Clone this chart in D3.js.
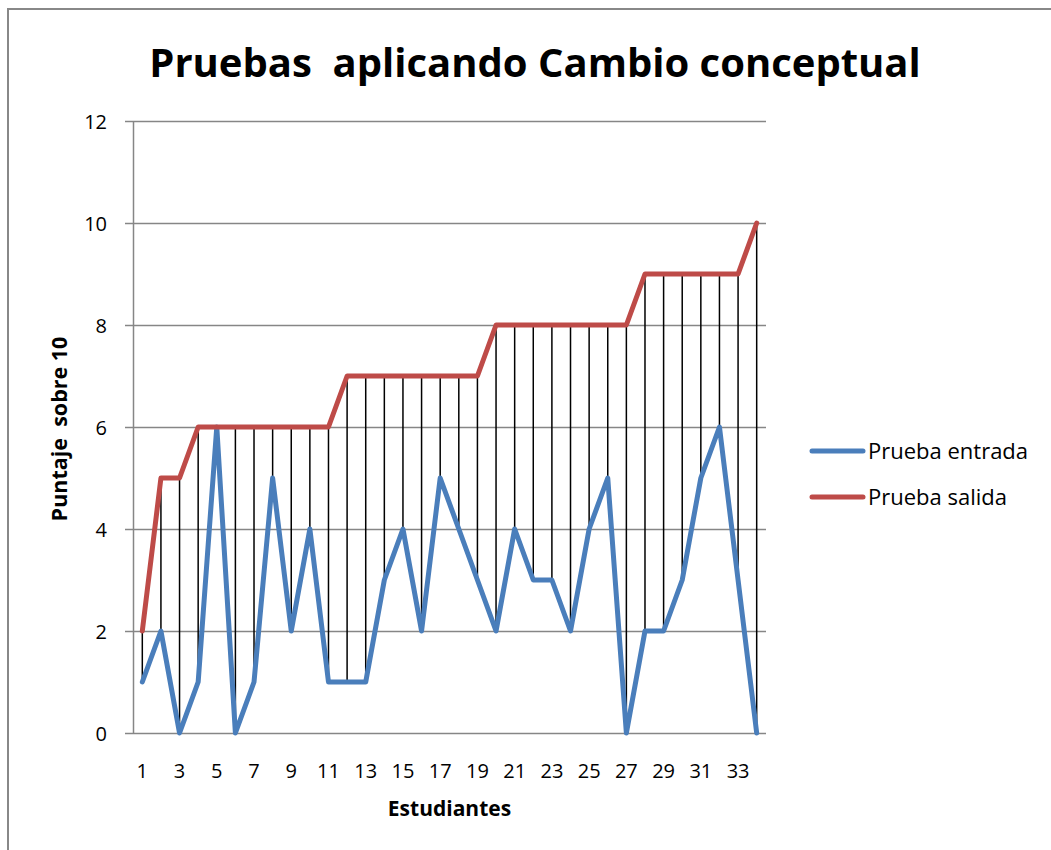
<!DOCTYPE html>
<html>
<head>
<meta charset="utf-8">
<script src="https://cdn.jsdelivr.net/npm/d3@7"></script>
<style>
  body { margin: 0; background: #fff; }
  svg text { font-family: "Open Sans", "Noto Sans", sans-serif; fill: #000; }
</style>
</head>
<body>
<div id="chart"></div>
<script>
// Students 1..34
const students = d3.range(1, 35);
// Scores (out of 10)
const entrada = [1, 2, 0, 1, 6, 0, 1, 5, 2, 4, 1, 1, 1, 3, 4, 2, 5, 4, 3, 2, 4, 3, 3, 2, 4, 5, 0, 2, 2, 3, 5, 6, 3, 0];
const salida  = [2, 5, 5, 6, 6, 6, 6, 6, 6, 6, 6, 7, 7, 7, 7, 7, 7, 7, 7, 8, 8, 8, 8, 8, 8, 8, 8, 9, 9, 9, 9, 9, 9, 10];
const yTicks = [0, 2, 4, 6, 8, 10, 12];
const xTickLabels = students.filter(d => d % 2 === 1);
const seriesNames = ["Prueba entrada", "Prueba salida"];
const seriesColors = ["#4a7ebb", "#be4b48"];

const width = 1051;
const height = 850;
const margin = { left: 133, right: 285, top: 121, bottom: 117 };

const svg = d3.select("#chart")
    .append("svg")
    .attr("width", width)
    .attr("height", height);

// chart area border
svg.append("rect")
    .attr("x", 8).attr("y", 9)
    .attr("width", width + 20).attr("height", height + 20)
    .attr("fill", "none")
    .attr("stroke", "#888")
    .attr("stroke-width", 2);

const x = d3.scaleBand()
    .domain(students)
    .range([margin.left, width - margin.right]);

const y = d3.scaleLinear()
    .domain([0, 12])
    .range([height - margin.bottom, margin.top]);

const cx = d => x(d) + x.bandwidth() / 2;

// horizontal grid lines + y axis
const yAxis = d3.axisLeft(y)
    .tickValues(yTicks)
    .tickSize(-(width - margin.right - margin.left))
    .tickPadding(26)
    .tickSizeOuter(0);

const gy = svg.append("g")
    .attr("transform", `translate(${margin.left},0)`)
    .call(yAxis);
gy.select(".domain").attr("stroke", "#868686").attr("stroke-width", 1.5);
gy.selectAll(".tick line")
    .attr("stroke", "#868686")
    .attr("stroke-width", 1.5)
    .attr("x1", -8);
gy.selectAll(".tick text")
    .attr("font-size", 20)
    .attr("font-family", "Open Sans")
    .attr("dy", "0.35em");

// x axis labels (no tick marks)
const xAxis = d3.axisBottom(x)
    .tickValues(xTickLabels)
    .tickSize(0)
    .tickPadding(31);
const gx = svg.append("g")
    .attr("transform", `translate(0,${height - margin.bottom})`)
    .call(xAxis);
gx.select(".domain").remove();
gx.selectAll(".tick text")
    .attr("font-size", 20)
    .attr("font-family", "Open Sans");

// high-low lines
svg.append("g")
    .selectAll("line")
    .data(students)
    .join("line")
    .attr("x1", d => cx(d))
    .attr("x2", d => cx(d))
    .attr("y1", (d, i) => y(entrada[i]))
    .attr("y2", (d, i) => y(salida[i]))
    .attr("stroke", "#000")
    .attr("stroke-width", 1.5);

// series lines
const line = d3.line()
    .x(d => cx(d[0]))
    .y(d => y(d[1]));

[entrada, salida].forEach((vals, k) => {
    svg.append("path")
        .datum(students.map((s, i) => [s, vals[i]]))
        .attr("fill", "none")
        .attr("stroke", seriesColors[k])
        .attr("stroke-width", 5)
        .attr("stroke-linejoin", "round")
        .attr("stroke-linecap", "round")
        .attr("d", line);
});

// title
svg.append("text")
    .attr("x", 535)
    .attr("y", 77)
    .attr("text-anchor", "middle")
    .attr("font-size", 40)
    .attr("font-weight", "bold")
    .style("white-space", "pre")
    .text("Pruebas  aplicando Cambio conceptual");

// axis titles
svg.append("text")
    .attr("transform", `translate(67,${(margin.top + height - margin.bottom) / 2 + 2}) rotate(-90)`)
    .attr("text-anchor", "middle")
    .attr("font-size", 21.5)
    .attr("font-weight", "bold")
    .style("white-space", "pre")
    .text("Puntaje  sobre 10");

svg.append("text")
    .attr("x", (margin.left + width - margin.right) / 2)
    .attr("y", 816)
    .attr("text-anchor", "middle")
    .attr("font-size", 21)
    .attr("font-weight", "bold")
    .text("Estudiantes");

// legend
const legend = svg.append("g").attr("transform", "translate(810,451)");
seriesNames.forEach((name, k) => {
    const g = legend.append("g").attr("transform", `translate(0,${k * 46})`);
    g.append("line")
        .attr("x1", 2).attr("x2", 53)
        .attr("stroke", seriesColors[k])
        .attr("stroke-width", 5)
        .attr("stroke-linecap", "round");
    g.append("text")
        .attr("x", 58)
        .attr("dy", "0.35em")
        .attr("font-size", 22)
        .text(name);
});
</script>
</body>
</html>
